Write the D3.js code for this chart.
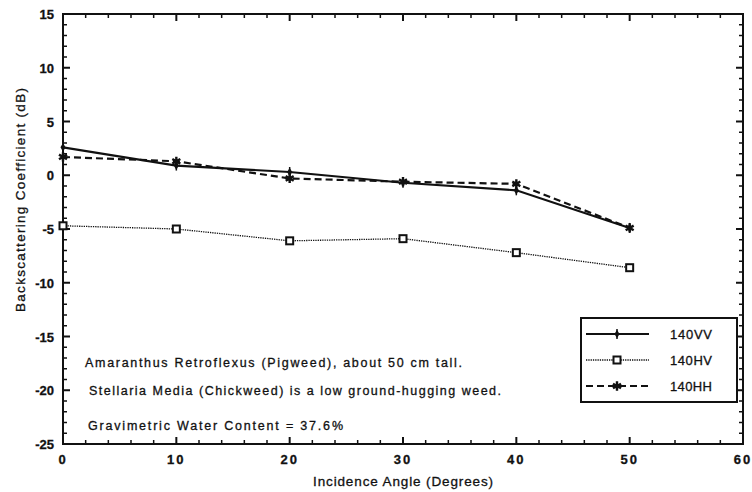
<!DOCTYPE html>
<html>
<head>
<meta charset="utf-8">
<script src="https://cdn.jsdelivr.net/npm/d3@7"></script>
<style>
  body { margin: 0; background: #fff; }
  svg { font-family: Arial, "Liberation Sans", Helvetica, sans-serif; }
  text { fill: #111; stroke: #111; stroke-width: 0.3; }
</style>
</head>
<body>
<div id="chart"></div>
<script>
// values
const angles = [0, 10, 20, 30, 40, 50];
const vv = [2.6, 0.9, 0.3, -0.7, -1.4, -4.9];
const hv = [-4.7, -5.0, -6.1, -5.9, -7.2, -8.6];
const hh = [1.7, 1.3, -0.3, -0.6, -0.8, -4.9];
const seriesNames = ['140VV', '140HV', '140HH'];
const notes = [
  'Amaranthus Retroflexus (Pigweed), about 50 cm tall.',
  'Stellaria Media (Chickweed) is a low ground-hugging weed.',
  'Gravimetric Water Content = 37.6%'
];

const width = 752, height = 492;
const margin = {top: 14, right: 9, bottom: 48, left: 63};
const iw = width - margin.left - margin.right;
const ih = height - margin.top - margin.bottom;

const svg = d3.select('#chart').append('svg')
  .attr('width', width)
  .attr('height', height);

const g = svg.append('g')
  .attr('transform', `translate(${margin.left},${margin.top})`);

const x = d3.scaleLinear().domain([0, 60]).range([0, iw]);
const y = d3.scaleLinear().domain([-25, 15]).range([ih, 0]);

// frame
g.append('rect')
  .attr('width', iw).attr('height', ih)
  .attr('fill', 'none').attr('stroke', '#111').attr('stroke-width', 2);

// ticks, all pointing inward
const xMinor = d3.range(0, 61, 2);
const yMinor = d3.range(-25, 16, 1);
const tick = (sel, cls) => sel.attr('stroke', '#111').attr('class', cls);

g.selectAll('.xb').data(xMinor).join('line')
  .call(tick, 'xb')
  .attr('x1', d => x(d)).attr('x2', d => x(d))
  .attr('y1', ih).attr('y2', d => ih - (d % 10 === 0 ? 7 : 4))
  .attr('stroke-width', d => d % 10 === 0 ? 2 : 1.5);
g.selectAll('.xt').data(xMinor).join('line')
  .call(tick, 'xt')
  .attr('x1', d => x(d)).attr('x2', d => x(d))
  .attr('y1', 0).attr('y2', d => (d % 10 === 0 ? 7 : 4))
  .attr('stroke-width', d => d % 10 === 0 ? 2 : 1.5);
g.selectAll('.yl').data(yMinor).join('line')
  .call(tick, 'yl')
  .attr('y1', d => y(d)).attr('y2', d => y(d))
  .attr('x1', 0).attr('x2', d => (d % 5 === 0 ? 7 : 4))
  .attr('stroke-width', d => d % 5 === 0 ? 2 : 1.5);
g.selectAll('.yr').data(yMinor).join('line')
  .call(tick, 'yr')
  .attr('y1', d => y(d)).attr('y2', d => y(d))
  .attr('x1', iw).attr('x2', d => iw - (d % 5 === 0 ? 7 : 4))
  .attr('stroke-width', d => d % 5 === 0 ? 2 : 1.5);

// tick labels
g.selectAll('.xlab').data(d3.range(0, 61, 10)).join('text')
  .attr('class', 'xlab')
  .attr('x', d => x(d)).attr('y', ih + 20)
  .attr('text-anchor', 'middle')
  .attr('font-size', 13).attr('font-weight', 'bold')
  .attr('letter-spacing', 2)
  .text(d => d);
g.selectAll('.ylab').data(d3.range(-25, 16, 5)).join('text')
  .attr('class', 'ylab')
  .attr('x', -9).attr('y', d => y(d) + 5)
  .attr('text-anchor', 'end')
  .attr('font-size', 13).attr('font-weight', 'bold')
  .text(d => d);

// axis titles
svg.append('text')
  .attr('x', 313).attr('y', 486)
  .attr('font-size', 13.5)
  .attr('textLength', 180).attr('lengthAdjust', 'spacing')
  .text('Incidence Angle (Degrees)');
svg.append('text')
  .attr('transform', 'translate(25,312) rotate(-90)')
  .attr('font-size', 13.5)
  .attr('textLength', 224).attr('lengthAdjust', 'spacing')
  .text('Backscattering Coefficient (dB)');

// series
const series = [
  {name: seriesNames[0], values: vv, dash: null, width: 2.2, marker: 'plus'},
  {name: seriesNames[1], values: hv, dash: '1.3,1', width: 1.3, marker: 'square'},
  {name: seriesNames[2], values: hh, dash: '7,4', width: 2.2, marker: 'star'}
];

const line = d3.line()
  .x((d, i) => x(angles[i]))
  .y(d => y(d));

function drawMarker(sel, type) {
  if (type === 'square') {
    sel.append('rect')
      .attr('x', -3.5).attr('y', -3.5).attr('width', 7).attr('height', 7)
      .attr('fill', '#fff').attr('stroke', '#111').attr('stroke-width', 2);
  } else if (type === 'plus') {
    sel.append('path')
      .attr('d', d3.symbol().type(d3.symbolDiamond).size(22)())
      .attr('fill', '#111');
    sel.append('line')
      .attr('x1', 0).attr('x2', 0).attr('y1', -5).attr('y2', 5)
      .attr('stroke', '#111').attr('stroke-width', 1.5);
  } else {
    sel.append('path')
      .attr('d', d3.symbol().type(d3.symbolAsterisk).size(60)())
      .attr('fill', 'none').attr('stroke', '#111').attr('stroke-width', 2.4);
  }
}

series.forEach(s => {
  g.append('path')
    .datum(s.values)
    .attr('d', line)
    .attr('fill', 'none')
    .attr('stroke', '#111')
    .attr('stroke-width', s.width)
    .attr('stroke-dasharray', s.dash);
  g.selectAll(null).data(s.values).join('g')
    .attr('transform', (d, i) => `translate(${x(angles[i])},${y(d)})`)
    .each(function () { drawMarker(d3.select(this), s.marker); });
});

// notes
const noteX = [85, 89, 88];
const noteY = [367, 395, 430];
const noteLen = [377, 412, 255];
notes.forEach((t, i) => {
  svg.append('text')
    .attr('x', noteX[i]).attr('y', noteY[i])
    .attr('font-size', 12.5)
    .attr('textLength', noteLen[i]).attr('lengthAdjust', 'spacing')
    .text(t);
});

// legend
const lg = svg.append('g').attr('transform', 'translate(581,318)');
lg.append('rect')
  .attr('width', 156).attr('height', 84)
  .attr('fill', '#fff').attr('stroke', '#111').attr('stroke-width', 2);
series.forEach((s, i) => {
  const ly = 16 + i * 26;
  lg.append('line')
    .attr('x1', 5).attr('x2', 68).attr('y1', ly).attr('y2', ly)
    .attr('stroke', '#111').attr('stroke-width', s.width)
    .attr('stroke-dasharray', s.dash);
  drawMarker(lg.append('g').attr('transform', `translate(36,${ly})`), s.marker);
  lg.append('text')
    .attr('x', 89).attr('y', ly + 5)
    .attr('font-size', 13)
    .attr('textLength', 42).attr('lengthAdjust', 'spacing')
    .text(s.name);
});
</script>
</body>
</html>
